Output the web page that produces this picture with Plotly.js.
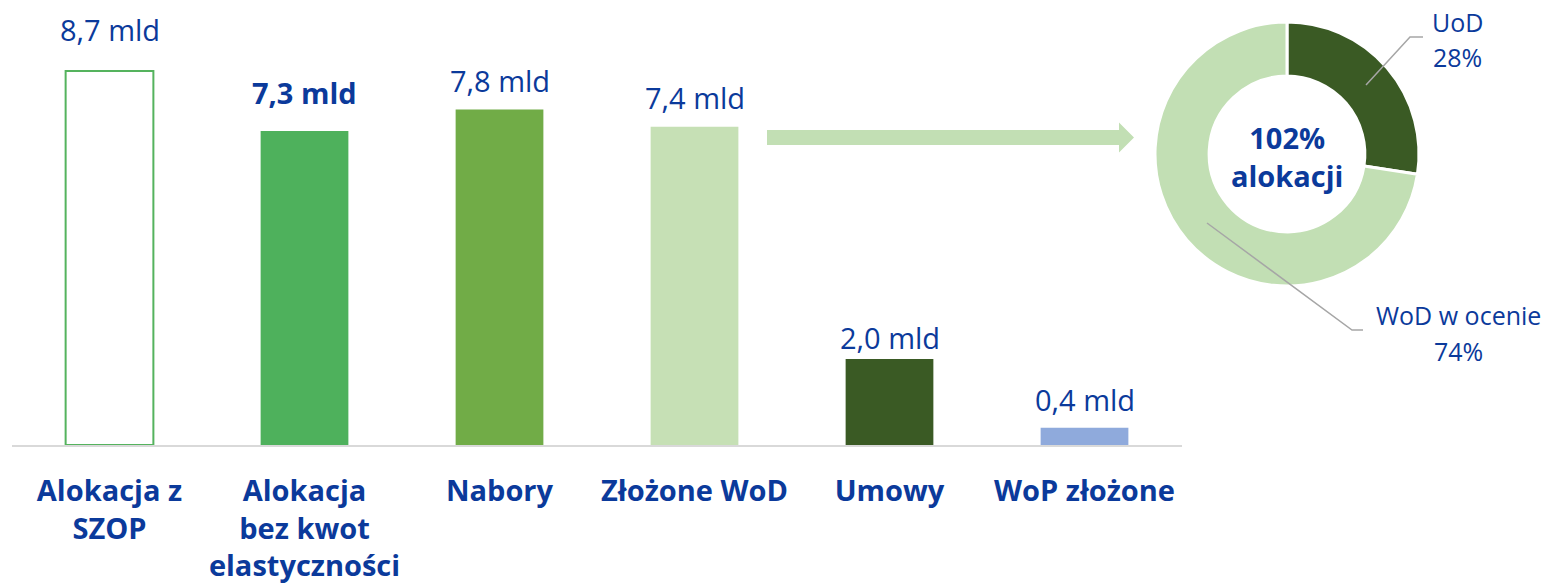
<!DOCTYPE html>
<html>
<head>
<meta charset="utf-8">
<script src="https://cdn.plot.ly/plotly-3.0.1.min.js"></script>
<style>html,body{margin:0;padding:0;background:#fff;}#chart{width:1547px;height:583px;}</style>
</head>
<body>
<div id="chart"></div>
<script>
// ---- data ----
const categories = ['Alokacja z<br>SZOP', 'Alokacja<br>bez kwot<br>elastyczności', 'Nabory', 'Złożone WoD', 'Umowy', 'WoP złożone'];
const values = [8.7, 7.3, 7.8, 7.4, 2.0, 0.4];
const unit = 'mld';
const pieLabels = ['UoD', 'WoD w ocenie'];
const pieValues = [28, 74];
const centerLines = ['102%', 'alokacji'];

// ---- styles ----
const W = 1547, H = 583;
const BLUE = '#0b3a9b';
const FONT = 'Open Sans, sans-serif';
const barColors = ['#ffffff', '#4eb15c', '#71ac47', '#c6e0b5', '#3a5a24', '#8faadc'];
const barLineColors = ['#55b35e', '#4eb15c', '#71ac47', '#c6e0b5', '#3a5a24', '#8faadc'];
const barLineWidths = [2, 0, 0, 0, 0, 0];
const labelShift = [41, 39, 29, 29, 22, 28];
const labelBold = [false, true, false, false, false, false];
const pieColors = ['#3a5a24', '#c2dfb4'];

const px = x => x / W;
const py = y => 1 - y / H;

const fmt = v => v.toFixed(1).replace('.', ',') + ' ' + unit;

const bar = {
  type: 'bar',
  x: categories,
  y: values,
  width: 0.45,
  marker: { color: barColors, line: { color: barLineColors, width: barLineWidths } },
  hoverinfo: 'none',
  showlegend: false,
  cliponaxis: false
};

const pie = {
  type: 'pie',
  labels: pieLabels,
  values: pieValues,
  sort: false,
  direction: 'clockwise',
  rotation: 0,
  hole: 0.59,
  textinfo: 'none',
  hoverinfo: 'none',
  showlegend: false,
  marker: { colors: pieColors, line: { color: '#ffffff', width: 3 } },
  domain: { x: [px(1155), px(1419)], y: [py(286), py(22)] }
};

const annotations = [];
values.forEach((v, i) => {
  annotations.push({
    x: i, xref: 'x', y: v, yref: 'y', yanchor: 'middle', xanchor: 'center',
    yshift: labelShift[i], showarrow: false,
    text: labelBold[i] ? '<b>' + fmt(v) + '</b>' : fmt(v),
    font: { family: FONT, size: 29, color: BLUE }
  });
});
const paperText = (x, y, text, size) => ({
  x: px(x), y: py(y), xref: 'paper', yref: 'paper', xanchor: 'center', yanchor: 'middle',
  showarrow: false, text: text, font: { family: FONT, size: size, color: BLUE }
});
// donut centre text
annotations.push(paperText(1287, 156, centerLines.map(t => '<b>' + t + '</b>').join('<br>'), 29));
// donut outside labels
const pieLabelPos = [[1457, 22, 57], [1458, 315, 351]];
pieLabels.forEach((l, i) => {
  annotations.push(paperText(pieLabelPos[i][0], pieLabelPos[i][1], l, 25));
  annotations.push(paperText(pieLabelPos[i][0], pieLabelPos[i][2], pieValues[i] + '%', 25));
});

const poly = pts => 'M' + pts.map(p => px(p[0]) + ',' + py(p[1])).join(' L') + ' Z';
const line = pts => 'M' + pts.map(p => px(p[0]) + ',' + py(p[1])).join(' L');

const shapes = [
  { type: 'path', xref: 'paper', yref: 'paper', fillcolor: '#c2dfb4', line: { width: 0 },
    path: poly([[767, 130], [1119, 130], [1119, 122.5], [1134, 137.5], [1119, 152.5], [1119, 145], [767, 145]]) },
  { type: 'path', xref: 'paper', yref: 'paper', line: { color: '#a6a6a6', width: 1.5 },
    path: line([[1366, 85], [1410, 37], [1423, 37]]) },
  { type: 'path', xref: 'paper', yref: 'paper', line: { color: '#a6a6a6', width: 1.5 },
    path: line([[1207, 223], [1352, 330], [1363, 330]]) }
];

const layout = {
  width: W, height: H,
  margin: { l: 0, r: 0, t: 0, b: 0 },
  paper_bgcolor: '#ffffff', plot_bgcolor: 'rgba(0,0,0,0)',
  font: { family: FONT, color: BLUE },
  xaxis: {
    domain: [px(12), px(1182)],
    type: 'category',
    showline: true, linecolor: '#d9d9d9', linewidth: 2,
    showgrid: false, zeroline: false, ticks: '',
    ticklabelstandoff: 19,
    tickfont: { family: FONT, size: 29, color: BLUE, weight: 'bold' },
    fixedrange: true
  },
  yaxis: {
    domain: [py(445), 1],
    range: [0, 445 / 43],
    visible: false, showgrid: false, zeroline: false, fixedrange: true
  },
  annotations: annotations,
  shapes: shapes
};

Plotly.newPlot('chart', [bar, pie], layout, { displayModeBar: false, staticPlot: true });
</script>
</body>
</html>
